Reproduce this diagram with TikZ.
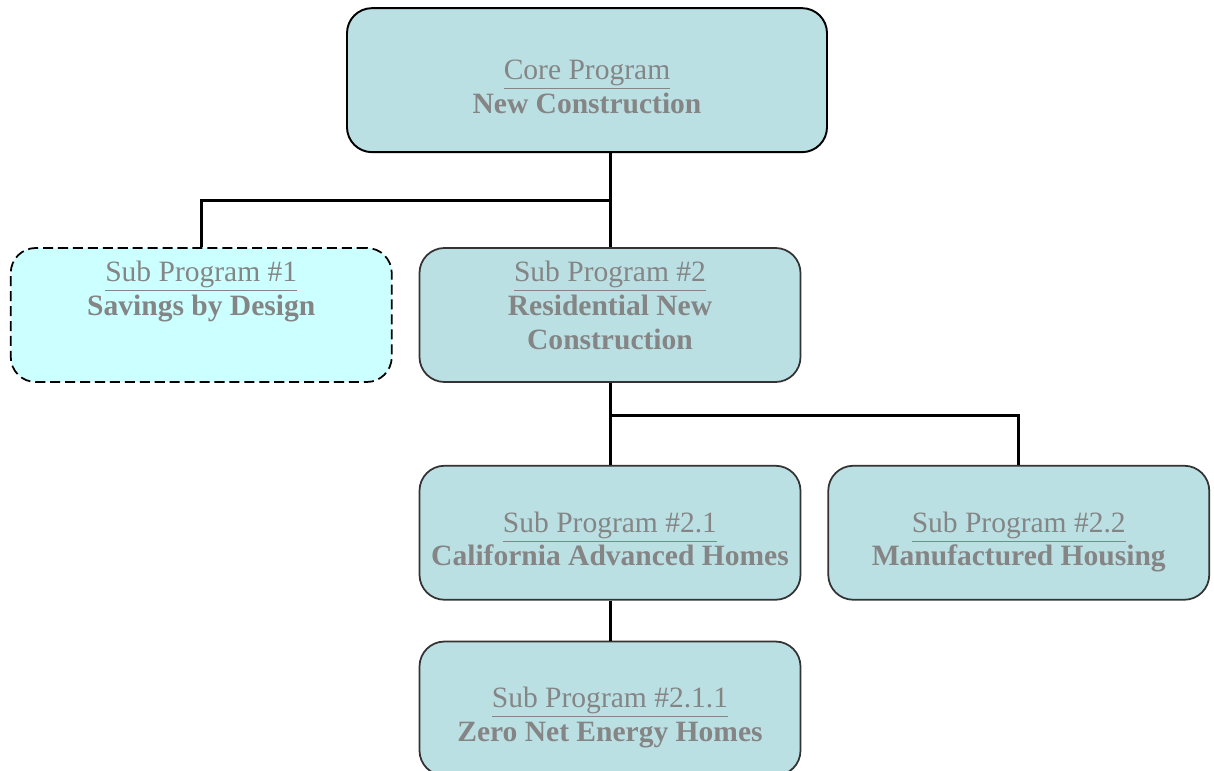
\documentclass[tikz,border=0pt]{standalone}
\usepackage{fontspec}
\setmainfont{Liberation Serif}
\usepackage{tikz}
\usetikzlibrary{positioning,calc}
\definecolor{pgfillc}{HTML}{BBE0E3}
\definecolor{pgcyan}{HTML}{CCFFFF}
\definecolor{pgtext}{HTML}{858585}
\definecolor{pgedge}{HTML}{333333}
\tikzset{
  prog/.style={draw=pgedge,line width=1pt,fill=pgfillc,rounded corners=0.5cm,minimum width=7.62cm,minimum height=2.68cm,inner sep=0pt,align=center,text=pgtext,font=\fontsize{16.8}{19.3}\selectfont,
    execute at begin node={\rule{0pt}{13.5pt}},execute at end node={\rule[-10.8pt]{0pt}{0.1pt}}},
  lowtxt/.style={execute at begin node={\rule{0pt}{48.6pt}}},
  uptxt/.style={execute at end node={\rule[-30.1pt]{0pt}{0.1pt}}},
  core/.style={prog,lowtxt,draw=black,line width=1.1pt,minimum width=9.6cm,minimum height=2.88cm},
  opt/.style={prog,uptxt,draw=black,fill=pgcyan,dash pattern=on 5.7pt off 2.8pt},
  lnk/.style={line width=1.7pt,draw=black},
}
\begin{document}
\begin{tikzpicture}
  \useasboundingbox (0,0) rectangle (24.28,-15.42);
  \node[prog] (sub2) at (12.20,-6.30) {\underline{Sub Program \#2}\\\textbf{Residential New}\\\textbf{Construction}};
  \node[core,above=1.88cm of sub2,xshift=-0.46cm] (core) {\underline{Core Program}\\\textbf{New Construction}};
  \node[opt,left=0.52cm of sub2] (sub1) {\underline{Sub Program \#1}\\\textbf{Savings by Design}};
  \node[prog,lowtxt,below=1.64cm of sub2] (sub21) {\underline{Sub Program \#2.1}\\\textbf{California Advanced Homes}};
  \node[prog,lowtxt,right=0.52cm of sub21] (sub22) {\underline{Sub Program \#2.2}\\\textbf{Manufactured Housing}};
  \node[prog,lowtxt,below=0.8cm of sub21] (sub211) {\underline{Sub Program \#2.1.1}\\\textbf{Zero Net Energy Homes}};
  % joints of the tree
  \coordinate (j1) at ($(core.south -| sub2.north)!0.5!(sub2.north)$);
  \coordinate (j2) at ($(sub2.south)!0.4!(sub21.north)$);
  \draw[lnk] (core.south -| sub2.north) -- (sub2.north);
  \draw[lnk] (sub1.north) |- (j1);
  \draw[lnk] (sub2.south) -- (sub21.north);
  \draw[lnk] (sub22.north) |- (j2);
  \draw[lnk] (sub21.south) -- (sub211.north);
\end{tikzpicture}
\end{document}
